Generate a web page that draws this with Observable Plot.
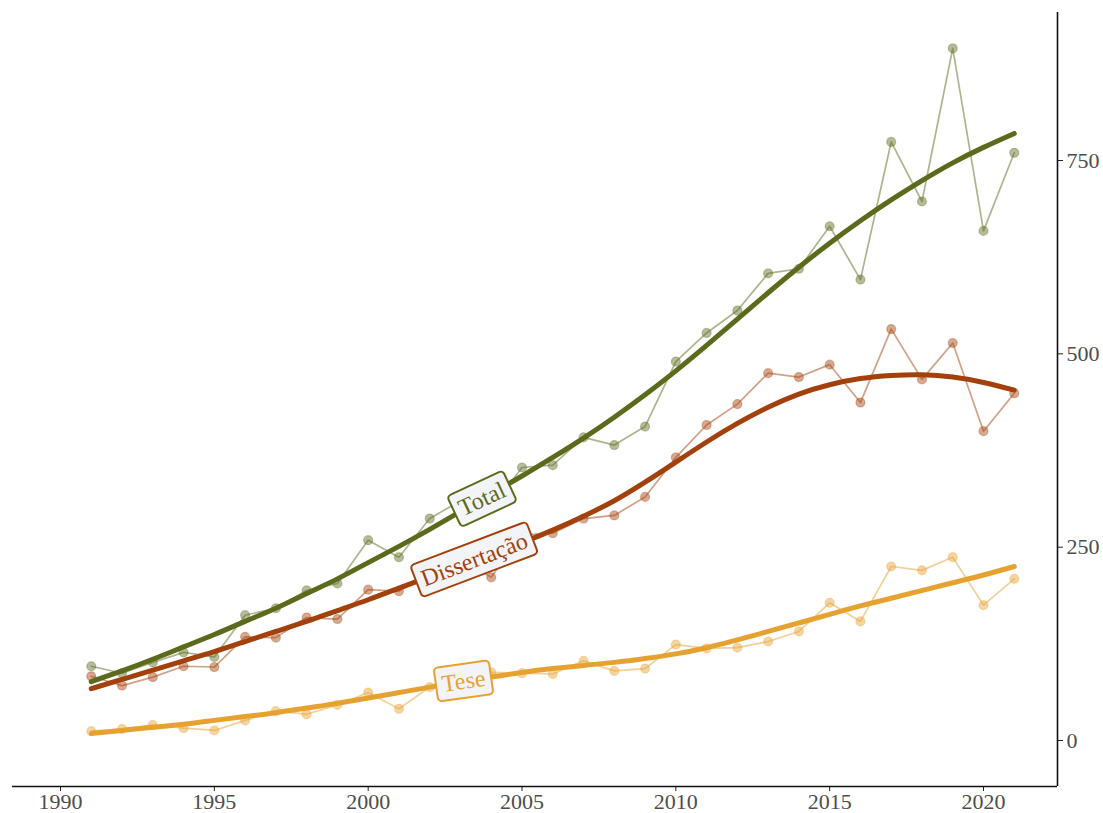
<!DOCTYPE html>
<html>
<head>
<meta charset="utf-8">
<script src="https://cdn.jsdelivr.net/npm/d3@7"></script>
<script src="https://cdn.jsdelivr.net/npm/@observablehq/plot@0.6"></script>
<style>
  html, body { margin: 0; padding: 0; background: white; }
  #chart { width: 1103px; height: 813px; }
</style>
</head>
<body>
<div id="chart"></div>
<script>
// ---- data ----
const years = [1991,1992,1993,1994,1995,1996,1997,1998,1999,2000,2001,2002,2003,2004,2005,2006,2007,2008,2009,2010,2011,2012,2013,2014,2015,2016,2017,2018,2019,2020,2021];

const totalValues = [96,87,101,114,108,162,171,194,203,259,237,287,310,300,353,356,392,382,406,490,527,556,604,610,665,596,774,697,895,659,760];
const dissValues  = [83,71,82,96,95,134,133,159,157,195,193,218,235,211,266,268,287,291,315,366,408,435,475,470,486,437,532,467,514,400,449];
const teseValues  = [12,15,20,16,13,26,38,34,46,62,41,69,75,88,87,86,103,90,93,124,119,120,128,141,178,154,225,220,237,175,209];

// smoothed trend curves
const totalSmooth = [76,90,105,121,137,154,171,190,209,230,251,273,296,319,342,366,391,418,447,478,511,545,579,612,643,672,699,724,747,767,785];
const dissSmooth  = [67,79,91,103,115,128,141,154,168,182,197,212,227,242,256,272,290,310,334,360,386,410,431,448,460,468,472,473,470,463,453];
const teseSmooth  = [9,13,17,21,26,31,36,42,48,55,62,69,76,82,88,93,97,101,106,112,120,130,141,152,163,174,184,194,204,214,225];

const seriesNames = ["Total", "Dissertação", "Tese"];
const seriesColors = ["#5a6b1c", "#a3410c", "#e6a230"];

const xTicks = [1990,1995,2000,2005,2010,2015,2020];
const yTicks = [0,250,500,750];
const xDomain = [1988.44, 2022.405];
const yDomain = [-59.5, 941.4];

// label placement (year position along each curve, rotation of text)
const labelYears  = [2003.7, 2003.45, 2003.1];
const labelAngles = [-25, -20.8, -8];

// ---- build tables ----
const rawSets = [totalValues, dissValues, teseValues];
const smoothSets = [totalSmooth, dissSmooth, teseSmooth];
const raw = [], smooth = [];
seriesNames.forEach((s, i) => {
  years.forEach((yr, j) => {
    raw.push({series: s, year: yr, value: rawSets[i][j]});
    smooth.push({series: s, year: yr, value: smoothSets[i][j]});
  });
});
const interp = (arr, yr) => {
  const j = Math.floor(yr - years[0]);
  const t = yr - years[j];
  return arr[j] + t * (arr[j + 1] - arr[j]);
};
const labels = seriesNames.map((s, i) => ({
  series: s, year: labelYears[i], value: interp(smoothSets[i], labelYears[i]), angle: labelAngles[i]
}));

const colorOf = s => seriesColors[seriesNames.indexOf(s)];
const font = "'Liberation Serif', 'Times New Roman', serif";

const chart = Plot.plot({
  width: 1103,
  height: 813,
  marginLeft: 12,
  marginRight: 46,
  marginTop: 12,
  marginBottom: 27,
  style: {fontFamily: font, background: "white", color: "#4d4d4d"},
  x: {domain: xDomain},
  y: {domain: yDomain},
  color: {domain: seriesNames, range: seriesColors},
  marks: [
    Plot.axisX({ticks: xTicks, tickFormat: d => String(d), tickSize: 5, tickPadding: 2, fontSize: 22, label: null, stroke: "#222", fill: "#4d4d4d"}),
    Plot.axisY({anchor: "right", ticks: yTicks, tickSize: 5, tickPadding: 4, fontSize: 22, label: null, stroke: "#222", fill: "#4d4d4d"}),
    Plot.ruleY([yDomain[0]], {stroke: "#111", strokeWidth: 1.6}),
    Plot.ruleX([xDomain[1]], {stroke: "#111", strokeWidth: 1.6}),
    // raw series
    Plot.line(raw, {x: "year", y: "value", z: "series", stroke: "series", strokeWidth: 1.7, strokeOpacity: 0.5}),
    Plot.dot(raw, {x: "year", y: "value", fill: "series", stroke: "series", r: 4.5, fillOpacity: 0.45, strokeOpacity: 0.35, strokeWidth: 1.2}),
    // smooth trends
    Plot.line(smooth, {x: "year", y: "value", z: "series", stroke: "series", strokeWidth: 5, curve: "natural"}),
    // labels
    Plot.text(labels, {x: "year", y: "value", text: "series", rotate: "angle", fill: d => colorOf(d.series), fontSize: 24, fontFamily: font})
  ]
});

document.getElementById("chart").appendChild(chart);

// draw rounded boxes behind the rotated labels
const texts = Array.from(chart.querySelectorAll("text")).filter(t => seriesNames.includes(t.textContent.trim()));
texts.forEach((t) => {
  const name = t.textContent.trim();
  const bb = t.getBBox();
  const padX = 6, padY = 4;
  const rect = document.createElementNS("http://www.w3.org/2000/svg", "rect");
  rect.setAttribute("x", bb.x - padX);
  rect.setAttribute("y", bb.y - padY);
  rect.setAttribute("width", bb.width + 2 * padX);
  rect.setAttribute("height", bb.height + 2 * padY);
  rect.setAttribute("rx", 4);
  rect.setAttribute("fill", "#f3f4f8");
  rect.setAttribute("stroke", colorOf(name));
  rect.setAttribute("stroke-width", 2);
  const tr = t.getAttribute("transform");
  if (tr) rect.setAttribute("transform", tr);
  t.parentNode.insertBefore(rect, t);
});
</script>
</body>
</html>
